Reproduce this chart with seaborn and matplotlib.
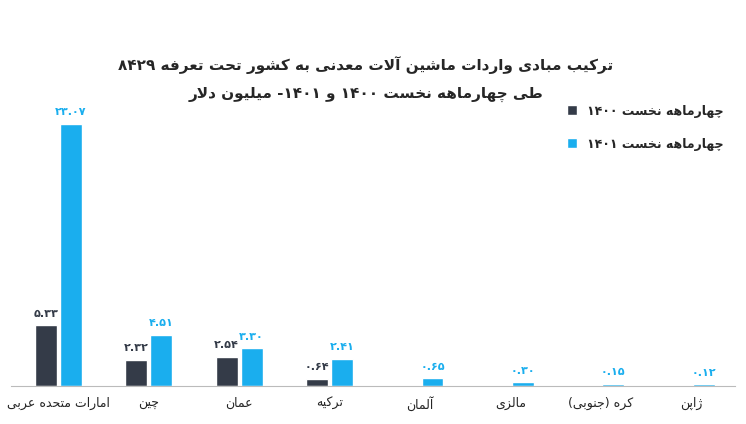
import pandas as pd
import numpy as np
import matplotlib
matplotlib.use("Agg")
import matplotlib.pyplot as plt
import seaborn as sns
from matplotlib.patches import Patch

# --- minimal Persian shaping + RTL ordering (matplotlib has no bidi) ---
FORMS = {  # isolated, final, initial, medial (None = does not join to next)
    'ا': (0xFE8D, 0xFE8E, None, None), 'آ': (0xFE81, 0xFE82, None, None),
    'ب': (0xFE8F, 0xFE90, 0xFE91, 0xFE92), 'ت': (0xFE95, 0xFE96, 0xFE97, 0xFE98),
    'ج': (0xFE9D, 0xFE9E, 0xFE9F, 0xFEA0), 'ح': (0xFEA1, 0xFEA2, 0xFEA3, 0xFEA4),
    'خ': (0xFEA5, 0xFEA6, 0xFEA7, 0xFEA8), 'د': (0xFEA9, 0xFEAA, None, None),
    'ر': (0xFEAD, 0xFEAE, None, None), 'ز': (0xFEAF, 0xFEB0, None, None),
    'س': (0xFEB1, 0xFEB2, 0xFEB3, 0xFEB4), 'ش': (0xFEB5, 0xFEB6, 0xFEB7, 0xFEB8),
    'ط': (0xFEC1, 0xFEC2, 0xFEC3, 0xFEC4), 'ع': (0xFEC9, 0xFECA, 0xFECB, 0xFECC),
    'ف': (0xFED1, 0xFED2, 0xFED3, 0xFED4), 'ل': (0xFEDD, 0xFEDE, 0xFEDF, 0xFEE0),
    'م': (0xFEE1, 0xFEE2, 0xFEE3, 0xFEE4), 'ن': (0xFEE5, 0xFEE6, 0xFEE7, 0xFEE8),
    'ه': (0xFEE9, 0xFEEA, 0xFEEB, 0xFEEC), 'و': (0xFEED, 0xFEEE, None, None),
    'ی': (0xFBFC, 0xFBFD, 0xFBFE, 0xFBFF), 'پ': (0xFB56, 0xFB57, 0xFB58, 0xFB59),
    'چ': (0xFB7A, 0xFB7B, 0xFB7C, 0xFB7D), 'ژ': (0xFB8A, 0xFB8B, None, None),
    'ک': (0xFB8E, 0xFB8F, 0xFB90, 0xFB91),
}


def shape(s):
    out = []
    n = len(s)
    for i, c in enumerate(s):
        if c not in FORMS:
            out.append(c)
            continue
        prev = s[i - 1] if i > 0 else ''
        nxt = s[i + 1] if i + 1 < n else ''
        jp = prev in FORMS and FORMS[prev][2] is not None
        jn = nxt in FORMS and FORMS[c][2] is not None
        f = FORMS[c]
        if jp and jn:
            code = f[3]
        elif jp:
            code = f[1]
        elif jn:
            code = f[2]
        else:
            code = f[0]
        out.append(chr(code))
    # lam-alef ligature
    r = ''.join(out)
    r = r.replace(chr(0xFEDF) + chr(0xFE8E), chr(0xFEFB)).replace(chr(0xFEE0) + chr(0xFE8E), chr(0xFEFC))
    r = r.replace(chr(0xFEDF) + chr(0xFE82), chr(0xFEF5)).replace(chr(0xFEE0) + chr(0xFE82), chr(0xFEF6))
    return r


def fa(s):
    s = shape(s)
    runs, cur, ltr = [], '', None
    for c in s:
        is_ltr = c.isdigit() or c == '.'
        if ltr is None or is_ltr == ltr:
            cur += c
        else:
            runs.append((cur, ltr))
            cur = c
        ltr = is_ltr
    runs.append((cur, ltr))
    res = ''
    for t, l in reversed(runs):
        if l:
            res += t
        else:
            res += t[::-1].translate(str.maketrans('()', ')('))
    return res


def fa_num(v):
    return f"{v:.2f}".translate(str.maketrans('0123456789', '۰۱۲۳۴۵۶۷۸۹'))


countries = ['امارات متحده عربی', 'چین', 'عمان', 'ترکیه', 'آلمان', 'مالزی', 'کره (جنوبی)', 'ژاپن']
v1400 = [5.33, 2.32, 2.54, 0.64, np.nan, np.nan, np.nan, np.nan]
v1401 = [23.07, 4.51, 3.30, 2.41, 0.65, 0.30, 0.15, 0.12]
series = ['چهارماهه نخست ۱۴۰۰', 'چهارماهه نخست ۱۴۰۱']
colors = ['#343b48', '#1aaeee']

df = pd.DataFrame({
    'country': countries * 2,
    'value': v1400 + v1401,
    'series': [series[0]] * 8 + [series[1]] * 8,
})

sns.set_style('white')
plt.rcParams['font.family'] = ['DejaVu Sans']

fig, ax = plt.subplots(figsize=(7.46, 4.24), dpi=100)
fig.subplots_adjust(left=0.015, right=0.985, top=0.74, bottom=0.09)
sns.barplot(data=df, x='country', y='value', hue='series', palette=colors,
            saturation=1, width=0.55, gap=0.12, ax=ax, legend=False)

for cont, col in zip(ax.containers, colors):
    for bar in cont:
        h = bar.get_height()
        if np.isnan(h) or h == 0:
            continue
        ax.text(bar.get_x() + bar.get_width() / 2, h + 0.6, fa_num(h),
                ha='center', va='bottom', fontsize=8, fontweight='bold', color=col)

ax.set_xticks(range(len(countries)))
ax.set_xticklabels([fa(c) for c in countries], fontsize=9)
ax.set_xlabel('')
ax.set_ylabel('')
ax.set_yticks([])
ax.set_ylim(0, 24.3)
ax.set_xlim(-0.52, 7.48)
for s in ['top', 'right', 'left']:
    ax.spines[s].set_visible(False)
ax.spines['bottom'].set_color('#bbbbbb')
ax.tick_params(axis='x', length=0, pad=8)

fig.text(0.49, 0.835, fa('ترکیب مبادی واردات ماشین آلات معدنی به کشور تحت تعرفه ۸۴۲۹'),
         ha='center', fontsize=11, fontweight='bold')
fig.text(0.49, 0.77, fa('طی چهارماهه نخست ۱۴۰۰ و ۱۴۰۱- میلیون دلار'),
         ha='center', fontsize=11, fontweight='bold')

handles = [Patch(facecolor=c, label=fa(s)) for c, s in zip(colors, series)]
fig.legend(handles=handles, loc='upper left', bbox_to_anchor=(0.745, 0.78),
           frameon=False, handlelength=0.8, handleheight=0.8,
           labelspacing=1.6, prop={'weight': 'bold', 'size': 9})

fig.savefig('out.png', dpi=100)
